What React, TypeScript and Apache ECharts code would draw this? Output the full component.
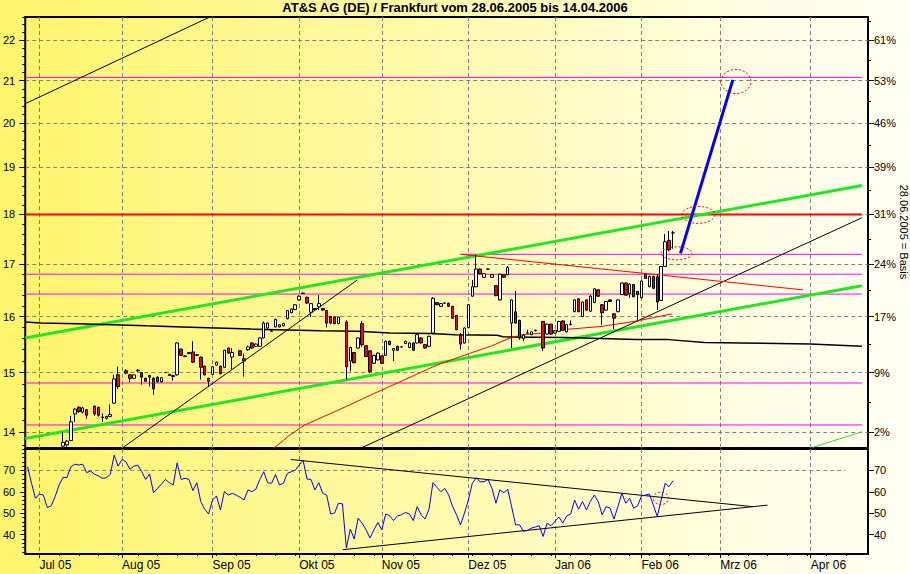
import React, { useEffect, useRef } from 'react';
import * as echarts from 'echarts';

const FONT = '"Liberation Sans", Arial, Helvetica, sans-serif';

const TITLE = 'AT&S AG (DE) / Frankfurt vom 28.06.2005 bis 14.04.2006';
const BASIS_TEXT = '28.06.2005 = Basis';
const BASE_PRICE = 13.7;

// x = trading-day index counted from 28.06.2005
const X_MIN = -0.6;
const X_MAX = 213.55;

const MONTH_IDX = [3, 24, 47, 69, 90, 112, 134, 156, 176, 199];
const MONTH_LABELS = ['Jul 05', 'Aug 05', 'Sep 05', 'Okt 05', 'Nov 05', 'Dez 05', 'Jan 06', 'Feb 06', 'Mrz 06', 'Apr 06'];

const PRICE_TICKS = [14, 15, 16, 17, 18, 19, 20, 21, 22];
const RSI_TICKS = [40, 50, 60, 70];

// [dayIndex, open, close, low, high]
const CANDLES: number[][] = [
  [0, 13.70, 13.62, 13.55, 13.72], [1, 13.62, 13.50, 13.45, 13.65], [2, 13.50, 13.40, 13.35, 13.52],
  [3, 13.40, 13.45, 13.35, 13.48], [4, 13.45, 13.55, 13.42, 13.58], [5, 13.55, 13.48, 13.44, 13.60],
  [6, 13.48, 13.52, 13.45, 13.56], [7, 13.52, 13.62, 13.50, 13.66], [8, 13.62, 13.70, 13.60, 13.73],
  [9, 13.78, 13.84, 13.74, 14.00], [10, 13.80, 13.86, 13.77, 13.88], [11, 13.87, 14.17, 13.86, 14.27],
  [12, 14.30, 14.38, 14.17, 14.40], [13, 14.41, 14.34, 14.32, 14.43], [14, 14.33, 14.40, 14.31, 14.42],
  [15, 14.37, 14.28, 14.22, 14.38], [17, 14.43, 14.30, 14.27, 14.44], [18, 14.41, 14.28, 14.26, 14.42],
  [19, 14.24, 14.25, 14.17, 14.31], [20, 14.23, 14.26, 14.21, 14.27], [21, 14.26, 14.29, 14.25, 14.46],
  [22, 14.48, 14.89, 14.47, 14.96], [23, 14.96, 14.76, 14.72, 15.10], [25, 15.03, 14.99, 14.97, 15.06],
  [26, 14.96, 14.90, 14.83, 14.97], [27, 14.90, 14.96, 14.89, 14.97], [28, 15.03, 15.04, 15.01, 15.06],
  [29, 15.00, 14.92, 14.79, 15.01], [30, 14.90, 14.85, 14.84, 14.91], [31, 14.95, 14.92, 14.76, 14.96],
  [32, 14.90, 14.72, 14.62, 14.92], [33, 14.92, 14.84, 14.83, 14.93], [34, 14.84, 14.91, 14.83, 14.92],
  [35, 15.00, 15.00, 14.99, 15.01], [36, 14.97, 14.95, 14.95, 14.97], [37, 14.93, 14.95, 14.86, 14.96],
  [38, 14.96, 15.52, 14.95, 15.53], [39, 15.41, 15.30, 15.29, 15.42], [40, 15.29, 15.28, 15.27, 15.30],
  [41, 15.33, 15.35, 15.32, 15.36], [42, 15.36, 15.18, 15.17, 15.55], [43, 15.30, 15.31, 15.29, 15.32],
  [44, 15.27, 15.09, 14.88, 15.28], [45, 15.11, 14.96, 14.95, 15.12], [46, 14.90, 14.85, 14.75, 14.91],
  [47, 14.97, 15.10, 14.96, 15.11], [48, 15.13, 15.18, 15.12, 15.19], [49, 15.11, 14.98, 14.97, 15.12],
  [50, 15.09, 15.39, 15.08, 15.40], [51, 15.43, 15.34, 15.33, 15.44], [52, 15.27, 15.35, 15.05, 15.43],
  [54, 15.38, 15.30, 15.29, 15.39], [55, 15.24, 15.20, 14.93, 15.33], [56, 15.40, 15.45, 15.38, 15.47],
  [57, 15.52, 15.43, 15.42, 15.53], [58, 15.46, 15.50, 15.45, 15.51], [59, 15.46, 15.61, 15.45, 15.62],
  [60, 15.61, 15.88, 15.60, 15.91], [61, 15.79, 15.88, 15.78, 15.89], [62, 15.73, 15.74, 15.72, 15.75],
  [63, 15.81, 15.95, 15.80, 15.96], [64, 15.81, 15.85, 15.80, 15.86], [65, 15.83, 15.87, 15.82, 15.88],
  [66, 15.96, 16.11, 15.95, 16.12], [67, 16.07, 16.14, 16.06, 16.15], [68, 16.13, 16.22, 16.12, 16.23],
  [69, 16.31, 16.38, 16.30, 16.40], [70, 16.43, 16.44, 16.42, 16.45], [71, 16.36, 16.25, 16.24, 16.37],
  [72, 16.08, 16.24, 15.99, 16.25], [73, 16.15, 16.13, 16.12, 16.16], [74, 16.18, 16.24, 16.12, 16.40],
  [75, 16.15, 16.12, 16.11, 16.16], [76, 16.11, 15.88, 15.80, 16.12], [77, 16.00, 15.88, 15.86, 16.01],
  [78, 15.99, 15.87, 15.86, 16.00], [79, 15.87, 15.99, 15.86, 16.00], [81, 15.90, 15.10, 14.88, 15.93],
  [82, 15.20, 15.44, 15.02, 15.45], [83, 15.35, 15.17, 15.16, 15.36], [84, 15.43, 15.61, 15.42, 15.62],
  [85, 15.87, 15.49, 15.45, 15.92], [86, 15.47, 15.28, 15.27, 15.48], [87, 15.38, 15.02, 14.99, 15.39],
  [88, 15.16, 15.30, 15.15, 15.31], [89, 15.22, 15.34, 15.21, 15.35], [90, 15.29, 15.16, 15.15, 15.30],
  [91, 15.30, 15.55, 15.29, 15.56], [92, 15.55, 15.49, 15.48, 15.56], [93, 15.39, 15.42, 15.20, 15.43],
  [94, 15.46, 15.39, 15.38, 15.47], [95, 15.45, 15.45, 15.44, 15.46], [96, 15.51, 15.55, 15.50, 15.56],
  [97, 15.44, 15.52, 15.43, 15.53], [98, 15.52, 15.39, 15.38, 15.53], [99, 15.52, 15.67, 15.51, 15.68],
  [100, 15.61, 15.52, 15.51, 15.62], [101, 15.49, 15.43, 15.42, 15.50], [102, 15.46, 15.64, 15.45, 15.65],
  [103, 15.70, 16.34, 15.69, 16.36], [104, 16.26, 16.22, 16.21, 16.27], [105, 16.19, 16.24, 16.18, 16.25],
  [106, 16.25, 16.25, 16.24, 16.26], [107, 16.25, 16.19, 16.18, 16.26], [108, 16.19, 15.97, 15.96, 16.20],
  [109, 16.02, 15.76, 15.75, 16.03], [110, 15.66, 15.50, 15.40, 15.70], [111, 15.52, 15.79, 15.51, 15.80],
  [112, 15.80, 16.22, 15.79, 16.23], [113, 16.38, 16.56, 16.37, 16.69], [114, 16.56, 16.90, 16.55, 17.18],
  [115, 16.90, 16.81, 16.80, 16.91], [116, 16.74, 16.81, 16.73, 16.82], [117, 16.90, 16.90, 16.89, 16.91],
  [118, 16.74, 16.79, 16.73, 16.80], [119, 16.58, 16.39, 16.38, 16.59], [120, 16.31, 16.80, 16.30, 16.81],
  [121, 16.79, 16.74, 16.73, 16.80], [122, 16.79, 16.93, 16.78, 16.96], [123, 15.88, 16.31, 15.43, 16.32],
  [124, 16.09, 15.88, 15.87, 16.48], [125, 15.93, 15.61, 15.58, 15.94], [126, 15.60, 15.66, 15.55, 15.67],
  [127, 15.70, 15.70, 15.69, 15.76], [128, 15.67, 15.72, 15.66, 15.73], [129, 15.74, 15.75, 15.73, 15.76],
  [131, 15.91, 15.43, 15.38, 15.92], [132, 15.68, 15.86, 15.67, 15.87], [133, 15.86, 15.68, 15.67, 15.87],
  [134, 15.70, 15.74, 15.69, 15.75], [135, 15.73, 15.91, 15.72, 15.92], [136, 15.92, 15.75, 15.74, 15.93],
  [137, 15.72, 15.85, 15.71, 15.86], [138, 15.85, 15.86, 15.84, 15.93], [139, 16.09, 16.31, 16.08, 16.32],
  [140, 16.33, 16.09, 16.08, 16.34], [141, 16.00, 16.27, 15.99, 16.28], [142, 16.31, 16.12, 16.11, 16.32],
  [143, 16.10, 16.38, 16.09, 16.40], [144, 16.26, 16.52, 16.25, 16.53], [145, 16.50, 16.38, 16.37, 16.51],
  [146, 16.22, 16.07, 15.85, 16.23], [147, 16.12, 16.28, 16.11, 16.29], [148, 16.31, 16.28, 16.27, 16.32],
  [149, 16.05, 15.97, 15.77, 16.06], [150, 16.09, 16.31, 16.08, 16.32], [151, 16.41, 16.63, 16.40, 16.64],
  [152, 16.63, 16.40, 16.39, 16.64], [153, 16.43, 16.61, 16.35, 16.62], [154, 16.60, 16.37, 16.36, 16.61],
  [155, 16.47, 16.41, 15.91, 16.48], [156, 16.35, 16.67, 16.34, 16.68], [157, 16.79, 16.72, 16.71, 16.82],
  [158, 16.56, 16.76, 16.55, 16.77], [159, 16.76, 16.53, 16.52, 16.77], [160, 16.75, 16.27, 16.12, 16.80],
  [161, 16.30, 16.95, 16.29, 16.96], [162, 16.95, 17.44, 16.94, 17.60], [163, 17.47, 17.28, 17.25, 17.66],
  [164, 17.62, 17.62, 17.30, 17.66],
];

// RSI, one value per trading day from index 0
const RSI = [
  71.7, 64, 57, 59, 58.5, 52.7, 53.5, 57.8, 63.2, 66.7,
  66.7, 71.7, 72.9, 72.5, 72.9, 69, 69.7, 68.3, 67.4, 66.3,
  66.6, 68.1, 77.1, 72, 75.1, 74, 70.5, 72, 72.5, 69.4,
  65.8, 68.3, 59.6, 61.6, 63.6, 65.8, 64.3, 63.2, 73.5, 65.8,
  66.3, 65.8, 60.6, 64.3, 55.5, 51.9, 49.7, 56.2, 58.1, 51.6,
  60.1, 58.5, 59.3, 58.5, 57.5, 56.2, 60.9, 60.1, 61.2, 65.8,
  69.4, 64.3, 64, 68.1, 63.2, 64, 68.6, 69.4, 70.1, 72.5,
  74.8, 66, 65.8, 60.9, 64.3, 59.3, 58.5, 49.7, 50.1, 54.7,
  54.4, 33.8, 42.6, 38, 47.7, 45.4, 42.3, 38.5, 42.3, 45.7,
  42.3, 49.7, 48.8, 46.6, 48.8, 49.3, 50.4, 49.7, 46.6, 53.1,
  49.3, 47.3, 51.9, 64.3, 62.1, 60.1, 61.6, 58.5, 53.1, 49.3,
  44.6, 50, 56.2, 64, 66.6, 64.7, 64.7, 65.8, 61.6, 54.7,
  60.9, 59.6, 61.2, 53, 44.6, 44.6, 41.6, 42, 43.1, 43.6,
  44.2, 39.2, 45.4, 44.2, 46.2, 48.2, 45.4, 48.8, 49.7, 56.2,
  51.9, 55.5, 51.6, 55.5, 58.5, 55.5, 49.3, 53.1, 52.4, 47.3,
  53.1, 59.3, 54.7, 57, 52.4, 53.5, 58.1, 58.5, 59, 53.9,
  48.5, 56.2, 64, 62.4, 65.2,
];

// long moving average (black) [dayIndex, price]
const MA_LONG = [
  [-0.6, 15.9], [3.4, 15.88], [12.5, 15.87], [21.3, 15.85], [30.2, 15.83], [39.2, 15.81], [48, 15.79],
  [56.8, 15.77], [74.5, 15.74], [83.8, 15.73], [92.1, 15.7], [102.2, 15.69], [108.7, 15.67], [119.3, 15.66],
  [120.8, 15.63], [136.5, 15.62], [154.6, 15.58], [162.9, 15.58], [172, 15.53], [181.3, 15.52],
  [198.9, 15.5], [212, 15.46],
];
// moving average (red)
const MA_RED = [
  [60, 13.62], [66.7, 13.96], [70.4, 14.12], [78.8, 14.36], [87.3, 14.62], [95.6, 14.87], [104, 15.13],
  [112.5, 15.34], [117.6, 15.46], [122.6, 15.61], [125.9, 15.67], [130.9, 15.7], [136, 15.76],
  [141, 15.79], [146, 15.82], [154.9, 15.92], [163.7, 16.05],
];

const GREEN_UPPER = [[-0.6, 15.61], [212, 18.61]];
const GREEN_LOWER = [[-0.6, 13.9], [212, 16.58]];
const GREEN_THIN = [[199.5, 13.76], [212, 14.01]];
const BLACK_TOP = [[-0.6, 20.45], [46.3, 22.6]];
const BLACK_MID = [[24.3, 13.76], [83.8, 16.69]];
const BLACK_LOW = [[85.1, 13.76], [212, 17.93]];
const RED_DECLINE = [[110, 17.19], [197, 16.5]];
const BLUE_TARGET = [[165.9, 17.21], [179.2, 21.02]];

// horizontal levels [price, fromIndex, toIndex]
const MAGENTA_LEVELS = [[21.08, -0.6, 212], [17.19, 110, 212], [16.8, -0.6, 212], [16.42, -0.6, 212], [14.82, -0.6, 212], [14.12, -0.6, 212]];
const RED_LEVEL = [[18.0, -0.6, 212]];

const RSI_UPPER = [[66.9, 75.1], [184.3, 53.1]];
const RSI_LOWER = [[80.1, 33.0], [188.0, 53.8]];
const RSI_LEVEL70 = [[-0.6, 70], [207.8, 70]];

const MARK_MAIN = [[180.0, 20.98], [170.4, 17.99], [164.9, 17.21]];
const MARK_RSI = [[160.9, 57.0]];
const MARK_MAIN_SIZE = [[15, 12], [16.5, 8.5], [15.5, 6.5]];
const MARK_RSI_SIZE = [[7.5, 6.3]];

function range(a: number, b: number, step: number) {
  const out: number[] = [];
  for (let v = a; v <= b + 1e-9; v += step) out.push(Math.round(v * 100) / 100);
  return out;
}

function buildOption() {
  const dash = { color: '#808080', type: [4, 3] as any, width: 1 };
  const tickStyle = { color: '#000', width: 1 };
  const lbl = { color: '#000', fontFamily: FONT, fontSize: 11 };
  const weekIdx = range(3, 212, 5);
  const priceMinor = range(13.8, 22.6, 0.2);
  const priceHalf = range(14.5, 22.5, 1);
  const rsiMinor = range(32, 80, 2);

  const xBase = { type: 'value', min: X_MIN, max: X_MAX, position: 'bottom', axisLine: { show: false, onZero: false } };
  const yLog = { type: 'log', gridIndex: 0, min: 13.75, max: 22.6, axisLine: { show: false, onZero: false } };
  const yRsi = { type: 'value', gridIndex: 1, min: 31, max: 80, axisLine: { show: false, onZero: false } };

  const line = (data: number[][], color: string, width: number, extra: any = {}) => ({
    type: 'line', xAxisIndex: 0, yAxisIndex: 0, data, symbol: 'none', showSymbol: false, silent: true,
    lineStyle: { color, width }, clip: true, z: 3, ...extra,
  });
  const level = (lv: number[], color: string, width: number) =>
    line([[lv[1], lv[0]], [lv[2], lv[0]]], color, width);

  const ellipseSeries = (data: number[][], sizes: number[][], xi: number, yi: number) => ({
    type: 'custom', xAxisIndex: xi, yAxisIndex: yi, data, encode: { x: 0, y: 1 }, clip: false, z: 10, silent: true,
    renderItem: (params: any, api: any) => {
      const c = api.coord([api.value(0), api.value(1)]);
      const s = sizes[params.dataIndex];
      return {
        type: 'ellipse',
        shape: { cx: c[0], cy: c[1], rx: s[0], ry: s[1] },
        style: { fill: 'none', stroke: '#ff0000', lineWidth: 1, lineDash: [2, 2] },
      };
    },
  });

  return {
    animation: false,
    backgroundColor: 'transparent',
    title: {
      text: TITLE, left: 'center', top: 1, padding: 0,
      textStyle: { fontSize: 13, fontWeight: 'bold', color: '#000', fontFamily: FONT },
    },
    graphic: [{
      type: 'text', x: 904, y: 232, rotation: -Math.PI / 2,
      style: { text: BASIS_TEXT, font: `11px ${FONT}`, fill: '#000', align: 'center', verticalAlign: 'middle', textAlign: 'center', textVerticalAlign: 'middle' },
    }],
    grid: [
      { left: 18, top: 17, width: 850, height: 431, show: true, borderColor: '#000', borderWidth: 2, backgroundColor: 'transparent' },
      { left: 18, top: 449, width: 850, height: 105, show: true, borderColor: '#000', borderWidth: 2, backgroundColor: 'transparent' },
    ],
    xAxis: [
      { ...xBase, gridIndex: 0, axisTick: { show: false, customValues: MONTH_IDX }, axisLabel: { show: false, customValues: MONTH_IDX }, splitLine: { show: true, lineStyle: dash } },
      {
        ...xBase, gridIndex: 1,
        axisTick: { show: true, customValues: MONTH_IDX, length: 4, lineStyle: tickStyle },
        axisLabel: {
          show: true, customValues: MONTH_IDX, align: 'left', margin: 5, ...lbl, fontSize: 12,
          formatter: (v: number) => MONTH_LABELS[MONTH_IDX.indexOf(Math.round(v))] || '',
        },
        splitLine: { show: true, lineStyle: dash },
      },
      { ...xBase, gridIndex: 1, axisTick: { show: true, customValues: weekIdx, length: 2, lineStyle: tickStyle }, axisLabel: { show: false }, splitLine: { show: false } },
    ],
    yAxis: [
      {
        ...yLog, position: 'left',
        axisTick: { show: true, customValues: PRICE_TICKS, length: 6, lineStyle: tickStyle },
        axisLabel: { show: true, customValues: PRICE_TICKS, margin: 10, ...lbl, formatter: (v: number) => String(Math.round(v)) },
        splitLine: { show: true, lineStyle: dash },
      },
      { ...yLog, position: 'left', axisTick: { show: true, customValues: priceMinor, length: 3, lineStyle: tickStyle }, axisLabel: { show: false }, splitLine: { show: false } },
      {
        ...yLog, position: 'right',
        axisTick: { show: true, customValues: PRICE_TICKS, length: 6, lineStyle: tickStyle },
        axisLabel: { show: true, customValues: PRICE_TICKS, margin: 6, ...lbl, formatter: (v: number) => Math.round((v / BASE_PRICE - 1) * 100) + '%' },
        splitLine: { show: false },
      },
      { ...yLog, position: 'right', axisTick: { show: true, customValues: priceHalf, length: 3, lineStyle: tickStyle }, axisLabel: { show: false }, splitLine: { show: false } },
      {
        ...yRsi, position: 'left',
        axisTick: { show: true, customValues: RSI_TICKS, length: 5, lineStyle: tickStyle },
        axisLabel: { show: true, customValues: RSI_TICKS, margin: 10, ...lbl },
        splitLine: { show: false },
      },
      { ...yRsi, position: 'left', axisTick: { show: true, customValues: rsiMinor, length: 3, lineStyle: tickStyle }, axisLabel: { show: false }, splitLine: { show: false } },
      {
        ...yRsi, position: 'right',
        axisTick: { show: true, customValues: RSI_TICKS, length: 6, lineStyle: tickStyle },
        axisLabel: { show: true, customValues: RSI_TICKS, margin: 6, ...lbl },
        splitLine: { show: false },
      },
    ],
    series: [
      ...MAGENTA_LEVELS.map((lv) => level(lv, '#ff00ff', 1)),
      ...RED_LEVEL.map((lv) => level(lv, '#ff0000', 2)),
      line(GREEN_UPPER, '#22e622', 3),
      line(GREEN_LOWER, '#22e622', 3),
      line(GREEN_THIN, '#33dd33', 1),
      line(BLACK_TOP, '#000', 1),
      line(BLACK_MID, '#000', 1),
      line(BLACK_LOW, '#000', 1),
      line(MA_LONG, '#000', 1.5),
      line(MA_RED, '#ff0000', 1),
      line(RED_DECLINE, '#ff0000', 1),
      {
        type: 'candlestick', xAxisIndex: 0, yAxisIndex: 0, data: CANDLES, encode: { x: 0, y: [1, 2, 3, 4] },
        barWidth: 3, clip: true, z: 5, silent: true,
        itemStyle: { color: '#ffffff', color0: '#ff0000', borderColor: '#000', borderColor0: '#000', borderWidth: 1 },
      },
      line(BLUE_TARGET, '#0000ff', 3, { z: 6 }),
      ellipseSeries(MARK_MAIN, MARK_MAIN_SIZE, 0, 0),
      line(RSI_LEVEL70, '#808080', 1, { xAxisIndex: 1, yAxisIndex: 4, lineStyle: { color: '#808080', width: 1, type: [4, 3] } }),
      line(RSI_UPPER, '#000', 1, { xAxisIndex: 1, yAxisIndex: 4 }),
      line(RSI_LOWER, '#000', 1, { xAxisIndex: 1, yAxisIndex: 4 }),
      line(RSI.map((v, i) => [i, v]), '#0000ff', 1, { xAxisIndex: 1, yAxisIndex: 4, z: 4 }),
      ellipseSeries(MARK_RSI, MARK_RSI_SIZE, 1, 4),
    ],
  };
}

export default function App() {
  const ref = useRef<HTMLDivElement>(null);
  useEffect(() => {
    if (!ref.current) return;
    const chart = echarts.init(ref.current, null, { renderer: 'svg' });
    chart.setOption(buildOption() as any);
    return () => chart.dispose();
  }, []);
  return (
    <div
      style={{
        position: 'absolute', left: 0, top: 0, width: 910, height: 574,
        background: 'linear-gradient(to right, #fff46a 0%, #fff9a6 45%, #fffde0 80%, #fffff4 100%)',
      }}
    >
      <div ref={ref} style={{ width: 910, height: 574 }} />
    </div>
  );
}
